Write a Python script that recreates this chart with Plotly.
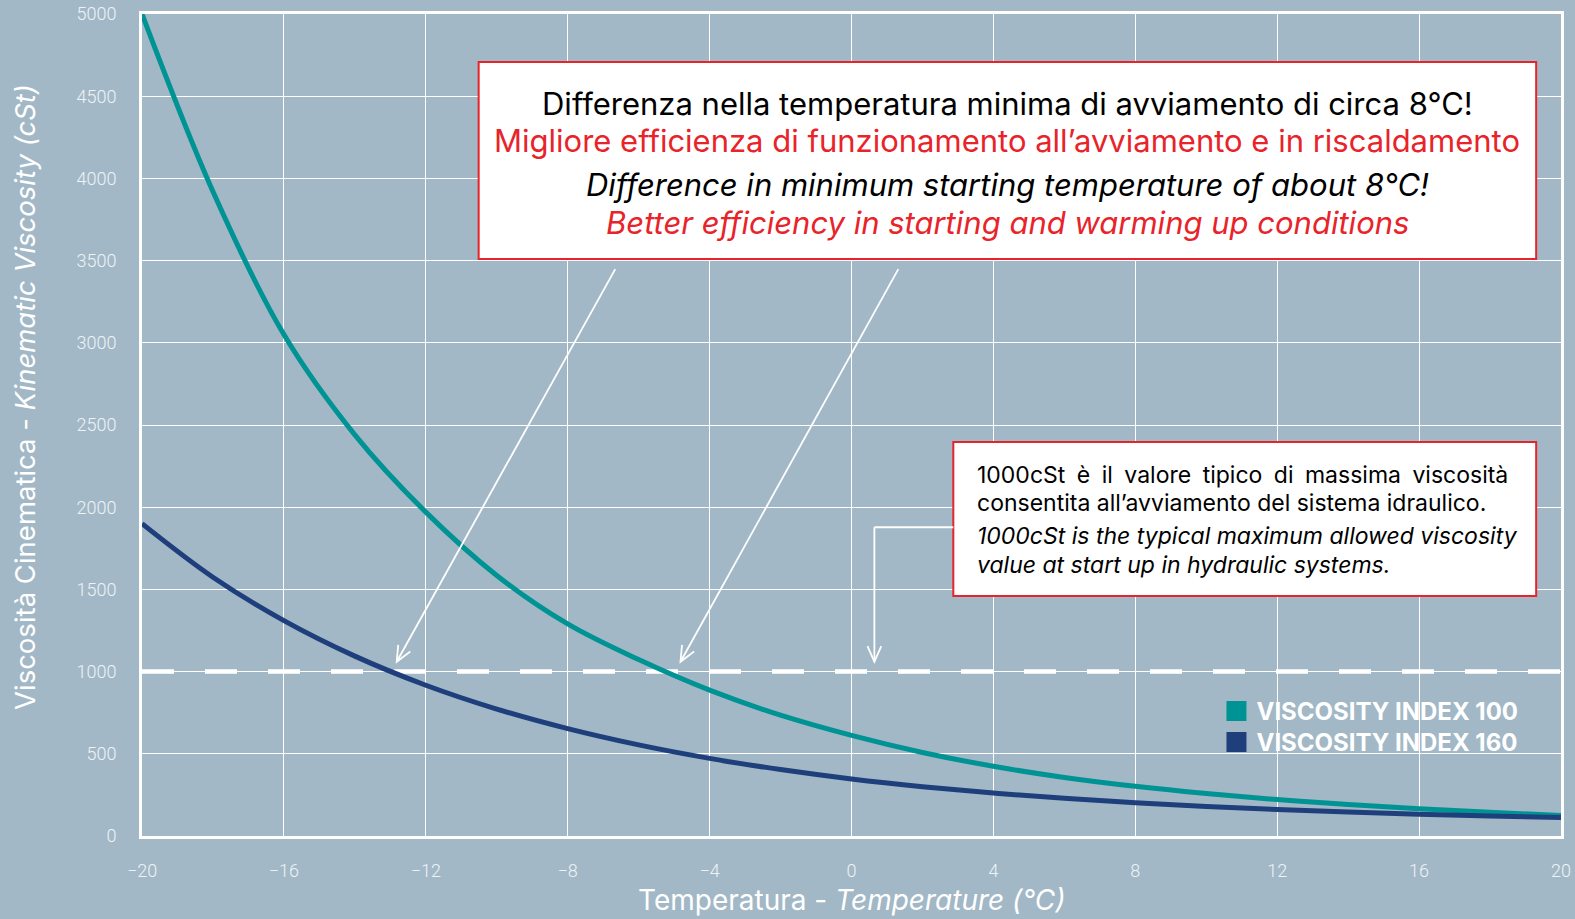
import math
import plotly.graph_objects as go

# ---- data ----
temperature = [-20, -18, -16, -14, -12, -10, -8, -6, -4, -2, 0, 2, 4, 6, 8, 10, 12, 14, 16, 18, 20]
vi100 = [5000, 3920, 3050, 2440, 1970, 1585, 1290, 1073, 887, 735, 612, 508, 424, 356, 302, 258, 222, 192, 166, 144, 125]
vi160 = [1900, 1574, 1310, 1094, 917, 772, 653, 554, 472, 404, 347, 300, 261, 229, 202, 180, 161, 146, 133, 122, 113]
threshold_x = [-20, 20]
threshold_y = [1000, 1000]
series_names = ["VISCOSITY INDEX 100", "VISCOSITY INDEX 160"]
x_ticks = [-20, -16, -12, -8, -4, 0, 4, 8, 12, 16, 20]
y_ticks = list(range(0, 5001, 500))

TEAL = "#009393"
NAVY = "#1f3f7c"
BG = "#a2b8c6"
RED = "#e8232a"
TICK = "#eef3f6"
FONT = "Inter, Liberation Sans, Arial, sans-serif"

W, H = 1575, 919
M = dict(l=142, r=14, t=14, b=83)
XR, YR = [-20, 20], [0, 5000]
PX_X = (W - M["l"] - M["r"]) / (XR[1] - XR[0])
PX_Y = (H - M["t"] - M["b"]) / (YR[1] - YR[0])

fig = go.Figure()

fig.add_trace(go.Scatter(x=threshold_x, y=threshold_y, mode="lines",
                         line=dict(color="white", width=4.5, dash="32px,31px"),
                         showlegend=False, hoverinfo="skip"))
fig.add_trace(go.Scatter(x=temperature, y=vi100, mode="lines", line_shape="spline",
                         line=dict(color=TEAL, width=5), showlegend=False))
fig.add_trace(go.Scatter(x=temperature, y=vi160, mode="lines", line_shape="spline",
                         line=dict(color=NAVY, width=5), showlegend=False))
for name, col, lg in zip(series_names, [TEAL, NAVY], ["legend", "legend2"]):
    fig.add_trace(go.Scatter(x=[None], y=[None], mode="markers", name=name, legend=lg,
                             marker=dict(symbol="square", size=16, color=col,
                                         line=dict(color=col, width=4))))

legend_common = dict(x=0.7572, xanchor="left", yanchor="top",
                     bgcolor="rgba(0,0,0,0)", itemwidth=30,
                     font=dict(family=FONT, size=24, color="white", weight="bold"))

fig.update_layout(
    width=W, height=H,
    paper_bgcolor=BG, plot_bgcolor=BG,
    margin=M,
    font=dict(family=FONT, color="white"),
    legend=dict(y=0.179, **legend_common),
    legend2=dict(y=0.1413, **legend_common),
    xaxis=dict(range=XR, tickvals=x_ticks, showgrid=True, gridcolor="white", gridwidth=1,
               zeroline=False, showline=True, linecolor="white", linewidth=3, mirror=True,
               ticks="", ticklabelstandoff=16, automargin=False,
               tickfont=dict(family="Roboto, Liberation Sans, sans-serif", size=18, color=TICK, weight=300)),
    yaxis=dict(range=YR, tickvals=y_ticks, showgrid=True, gridcolor="white", gridwidth=1,
               zeroline=False, showline=True, linecolor="white", linewidth=3, mirror=True,
               ticks="", ticklabelstandoff=19, automargin=False,
               tickfont=dict(family="Roboto, Liberation Sans, sans-serif", size=18, color=TICK, weight=300)),
)

# axis titles
fig.add_annotation(xref="paper", yref="paper", x=0.5, y=-0.0775, xanchor="center", yanchor="middle",
                   text="Temperatura - <i>Temperature (°C)</i>", showarrow=False,
                   font=dict(family=FONT, size=28, color="white"))
fig.add_annotation(xref="paper", yref="paper", x=-0.0825, y=0.534, xanchor="center", yanchor="middle",
                   text="Viscosità Cinematica - <i>Kinematic Viscosity (cSt)</i>", textangle=-90,
                   showarrow=False, font=dict(family=FONT, size=27.5, color="white"))

# big info box
fig.add_shape(type="rect", xref="x", yref="y", x0=-10.51, x1=19.30, y0=3510, y1=4708,
              fillcolor="white", line=dict(color=RED, width=2), layer="above")
big_lines = [
    ("Differenza nella temperatura minima di avviamento di circa 8°C!", "black", 4456),
    ("Migliore efficienza di funzionamento all’avviamento e in riscaldamento", RED, 4231),
    ("<i>Difference in minimum starting temperature of about 8°C!</i>", "black", 3961),
    ("<i>Better efficiency in starting and warming up conditions</i>", RED, 3729),
]
for txt, col, yy in big_lines:
    fig.add_annotation(x=4.39, y=yy, xref="x", yref="y", text=txt, showarrow=False,
                       xanchor="center", yanchor="middle",
                       font=dict(family=FONT, size=31, color=col))

# small info box (first line justified with wider word gaps)
fig.add_shape(type="rect", xref="x", yref="y", x0=2.87, x1=19.30, y0=1460, y1=2397,
              fillcolor="white", line=dict(color=RED, width=2), layer="above")
WIDE = "\u2002"
small_lines = [
    (WIDE.join("1000cSt è il valore tipico di massima viscosità".split(" ")), 2196),
    ("consentita all’avviamento del sistema idraulico.", 2026),
    ("<i>1000cSt is the typical maximum allowed viscosity</i>", 1825),
    ("<i>value at start up in hydraulic systems.</i>", 1651),
]
for txt, yy in small_lines:
    fig.add_annotation(x=3.49, y=yy, xref="x", yref="y", text=txt, showarrow=False,
                       xanchor="left", yanchor="middle",
                       font=dict(family=FONT, size=23, color="black"))


# arrows: thin shaft + open V head drawn in pixel units at the tip
def add_arrow(x0, y0, x1, y1, arm=17, angle=24):
    fig.add_shape(type="line", xref="x", yref="y", x0=x0, y0=y0, x1=x1, y1=y1,
                  line=dict(color="white", width=1.8))
    dx, dy = (x1 - x0) * PX_X, (y1 - y0) * PX_Y
    L = math.hypot(dx, dy)
    bx, by = -dx / L, -dy / L
    pts = []
    for s in (1, -1):
        a = math.radians(angle * s)
        pts.append((arm * (bx * math.cos(a) - by * math.sin(a)),
                    arm * (bx * math.sin(a) + by * math.cos(a))))
    path = f"M{pts[0][0]:.2f},{pts[0][1]:.2f} L0,0 L{pts[1][0]:.2f},{pts[1][1]:.2f}"
    fig.add_shape(type="path", xref="x", yref="y", xsizemode="pixel", ysizemode="pixel",
                  xanchor=x1, yanchor=y1, path=path,
                  line=dict(color="white", width=1.8))


add_arrow(-6.66, 3448, -12.82, 1060)
add_arrow(1.32, 3448, -4.82, 1060)
fig.add_shape(type="line", xref="x", yref="y", x0=2.87, x1=0.645, y0=1878, y1=1878,
              line=dict(color="white", width=1.8))
add_arrow(0.645, 1878, 0.645, 1060)

fig.write_html("out.html", config={"displayModeBar": False},
               post_script="document.body.style.margin='0';document.body.style.overflow='hidden';")
